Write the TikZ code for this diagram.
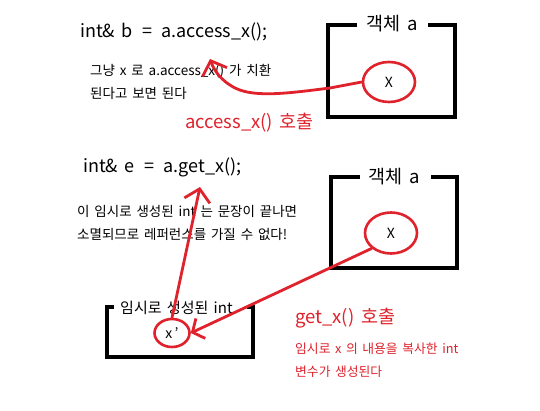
\documentclass[tikz,border=0pt]{standalone}
\usepackage{fontspec}
\setmainfont[WordSpace=1.6]{Noto Sans CJK KR}
\usetikzlibrary{shapes.geometric,arrows.meta}
\definecolor{mred}{RGB}{224,34,44}
\tikzset{
  x=1pt,y=-1pt,
  boxline/.style={line width=4.5pt,line join=miter,line cap=rect},
  redline/.style={draw=mred,line width=2.8pt,line cap=round},
  varell/.style={ellipse,draw=mred,line width=2.6pt,inner sep=0pt,font=\fontsize{14}{16}\selectfont},
  code/.style={anchor=west,inner sep=0pt,font=\fontsize{18}{22}\selectfont},
  note/.style={anchor=west,inner sep=0pt,font=\fontsize{13.5}{16}\selectfont},
  rednote/.style={anchor=west,inner sep=0pt,text=mred,font=\fontsize{12.8}{15}\selectfont},
  redhead/.style={anchor=west,inner sep=0pt,text=mred,font=\fontsize{18.5}{22}\selectfont},
  lbl/.style={inner sep=0pt,font=\fontsize{18.5}{22}\selectfont},
  tipA/.style={-{Straight Barb[length=12pt,width=26pt,line width=2.8pt]}}
}
\begin{document}
\begin{tikzpicture}
\useasboundingbox[fill=white] (0,0) rectangle (540,411);
% texts
\node[code] (c1) at (80,32) {int\& b \,=\, a.access\_x();};
\node[note] (n1) at (90,71) {그냥 x 로 a.access\_x() 가 치환};
\node[note] (n2) at (90,93) {된다고 보면 된다};
\node[redhead] (r1) at (185,123) {access\_x() 호출};
\node[code] (c2) at (83,167) {int\& e \,=\, a.get\_x();};
\node[note] (n3) at (77,211) {이 임시로 생성된 int 는 문장이 끝나면};
\node[note] (n4) at (77,234) {소멸되므로 레퍼런스를 가질 수 없다!};
\node[redhead] (r2) at (295,318) {get\_x() 호출};
\node[rednote] (n5) at (295,349) {임시로 x 의 내용을 복사한 int};
\node[rednote] (n6) at (295,372) {변수가 생성된다};
% box 1
\draw[boxline] (355,25) -- (328,25) -- (328,117) -- (455,117) -- (455,25) -- (430,25);
\node[lbl] (t1) at (392,24) {객체 a};
\node[varell,minimum width=52pt,minimum height=40pt] (x1) at (389,82) {X};
% box 2
\draw[boxline] (358,177) -- (331,177) -- (331,268) -- (457,268) -- (457,177) -- (433,177);
\node[lbl] (t2) at (394,177) {객체 a};
\node[varell,minimum width=52pt,minimum height=41pt] (x2) at (391,233) {X};
% box 3
\draw[boxline] (112,307) -- (107,307) -- (107,357) -- (253,357) -- (253,307) -- (249,307);
\node[lbl,anchor=west,font=\fontsize{15}{18}\selectfont] (t3) at (120,308) {임시로 생성된 int};
\node[varell,minimum width=35pt,minimum height=28pt] (x3) at (172,333) {x\,'};
% arrows
\coordinate (p1) at (210,59);
\coordinate (p2) at (200,187);
\draw[redline,tipA] (x1.west) -- (330,88) .. controls (290,93) and (255,98) .. (235,88) .. controls (220,80) and (214,70) .. (p1);
\draw[redline,tipA] (x3.north) -- (p2);
\draw[redline,-{Straight Barb[length=9pt,width=22pt,line width=2.8pt]}] (x2.south west) -- (x3.east);
\end{tikzpicture}
\end{document}
